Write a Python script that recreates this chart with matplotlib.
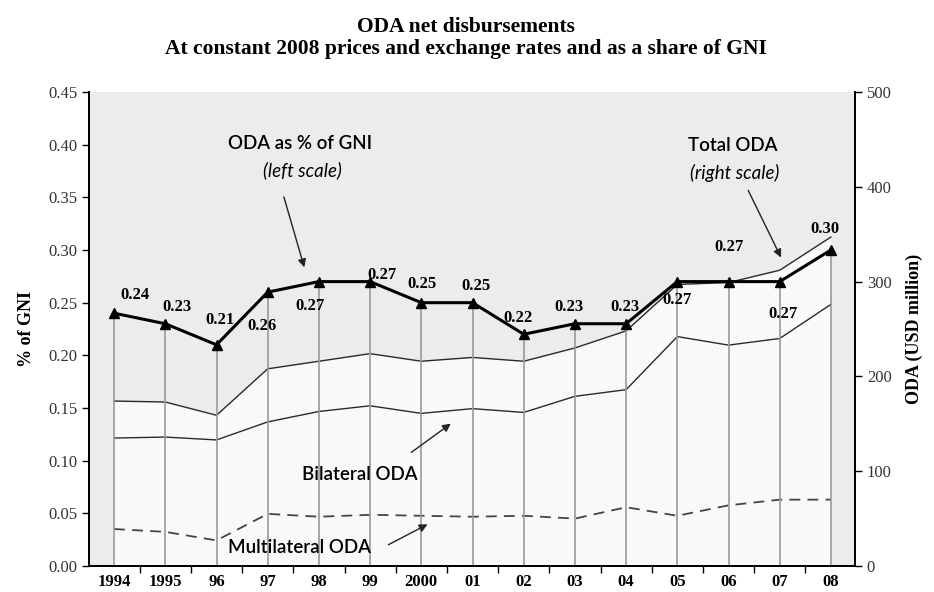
import matplotlib
matplotlib.use("Agg")
import matplotlib.pyplot as plt
from matplotlib.ticker import FixedLocator, FuncFormatter

# ODA net disbursements, constant 2008 prices
years = ["1994", "1995", "96", "97", "98", "99", "2000", "01", "02", "03", "04", "05", "06", "07", "08"]
gni_share = [0.24, 0.23, 0.21, 0.26, 0.27, 0.27, 0.25, 0.25, 0.22, 0.23, 0.23, 0.27, 0.27, 0.27, 0.30]
total_oda = [174, 173, 159, 208, 216, 224, 216, 220, 216, 230, 248, 297, 299, 312, 347]
bilateral_oda = [135, 136, 133, 152, 163, 169, 161, 166, 162, 179, 186, 242, 233, 240, 276]
multilateral_oda = [39, 36, 27, 55, 52, 54, 53, 52, 53, 50, 62, 53, 64, 70, 70]

# label offsets (pixels) for the % of GNI values
lab_dx = [21, 12, 3, -6, -9, 12, 1, 3, -6, -6, -1, 0, 0, 3, -6]
lab_dy = [18, 17, 25, -34, -24, 7, 19, 17, 16, 17, 17, -18, 35, -32, 21]

SERIF = "Liberation Serif"
SANS = "Lato"
x = list(range(len(years)))

fig = plt.figure(figsize=(9.34, 5.92), dpi=100)
ax2 = fig.add_axes([0.0953, 0.0439, 0.8201, 0.8007])
ax = ax2.twinx()
# left axis (% of GNI) drawn above the ODA areas
ax.set_zorder(ax2.get_zorder() + 1)
ax.patch.set_visible(False)
ax2.set_facecolor("#ececec")
ax.yaxis.tick_left(); ax.yaxis.set_label_position("left")
ax2.yaxis.tick_right(); ax2.yaxis.set_label_position("right")

# right scale: ODA volumes
ax2.fill_between(x, 0, total_oda, color="#f9f9f9", lw=0, zorder=1)
ax2.plot(x, total_oda, color="#2a2a2a", lw=1.0, zorder=3)
ax2.plot(x, bilateral_oda, color="#2a2a2a", lw=1.0, zorder=3)
ax2.plot(x, multilateral_oda, color="#444444", lw=1.3, ls=(0, (6, 4)), zorder=3)
ax2.set_ylim(0, 500)
ax2.set_yticks(range(0, 501, 100))

# left scale: ODA as % of GNI
ax.vlines(x, 0, gni_share, color="#9a9a9a", lw=1.2, zorder=2)
ax.plot(x, gni_share, color="black", lw=2.2, marker="^", ms=7, zorder=4)
for i, v in enumerate(gni_share):
    ax.annotate(f"{v:.2f}", (i, v), xytext=(lab_dx[i], lab_dy[i]), textcoords="offset pixels",
                ha="center", va="center", fontsize=12, fontweight="bold", family=SERIF, zorder=5)
ax.set_ylim(0, 0.45)
ax.set_yticks([i * 0.05 for i in range(10)])
ax.yaxis.set_major_formatter(FuncFormatter(lambda v, p: f"{v:.2f}"))

ax2.set_xlim(-0.49, 14.47)
ax2.set_xticks(x)
ax2.set_xticklabels(years, fontsize=12, fontweight="bold", family=SERIF)
ax2.xaxis.set_minor_locator(FixedLocator([i + 0.5 for i in range(14)]))
ax2.tick_params(axis="x", which="major", length=0, pad=6)
ax2.tick_params(axis="x", which="minor", length=5, direction="out", width=1)

for a in (ax, ax2):
    a.spines["top"].set_visible(False)
    for s in ("left", "right", "bottom"):
        a.spines[s].set_linewidth(1.3)
ax.tick_params(axis="y", length=5, width=1, labelsize=12, labelcolor="#333333")
ax2.tick_params(axis="y", length=5, width=1, labelsize=12, labelcolor="#333333")
for lab in ax.get_yticklabels() + ax2.get_yticklabels():
    lab.set_family(SERIF)

ax.set_ylabel("% of GNI", fontsize=13, fontweight="bold", family=SERIF, labelpad=9)
ax2.set_ylabel("ODA (USD million)", fontsize=13, fontweight="bold", family=SERIF, labelpad=10)

# callouts
ax.text(3.63, 0.401, "ODA as % of GNI", ha="center", va="center", fontsize=13.5, fontweight="semibold", family=SANS)
ax.text(3.67, 0.376, "(left scale)", ha="center", va="center", fontsize=13.5, style="italic", family=SANS)
ax.annotate("", xy=(3.73, 0.281), xytext=(3.30, 0.353),
            arrowprops=dict(arrowstyle="-|>", color="#222222", lw=1.0, mutation_scale=12))
ax.text(12.09, 0.399, "Total ODA", ha="center", va="center", fontsize=13.5, fontweight="semibold", family=SANS)
ax.text(12.13, 0.373, "(right scale)", ha="center", va="center", fontsize=13.5, style="italic", family=SANS)
ax.annotate("", xy=(13.05, 0.2905), xytext=(12.36, 0.359),
            arrowprops=dict(arrowstyle="-|>", color="#222222", lw=1.0, mutation_scale=12))
ax.text(4.79, 0.0873, "Bilateral ODA", ha="center", va="center", fontsize=13.5, fontweight="semibold", family=SANS)
ax.annotate("", xy=(6.62, 0.1367), xytext=(5.76, 0.1063),
            arrowprops=dict(arrowstyle="-|>", color="#222222", lw=1.0, mutation_scale=12))
ax.text(3.63, 0.018, "Multilateral ODA", ha="center", va="center", fontsize=13.5, fontweight="semibold", family=SANS)
ax.annotate("", xy=(6.17, 0.0408), xytext=(5.31, 0.019),
            arrowprops=dict(arrowstyle="-|>", color="#222222", lw=1.0, mutation_scale=12))

fig.text(0.499, 0.955, "ODA net disbursements", ha="center", va="center",
         fontsize=15.5, fontweight="bold", family=SERIF)
fig.text(0.499, 0.917, "At constant 2008 prices and exchange rates and as a share of GNI", ha="center",
         va="center", fontsize=15.5, fontweight="bold", family=SERIF)

fig.savefig("out.png", dpi=100)
